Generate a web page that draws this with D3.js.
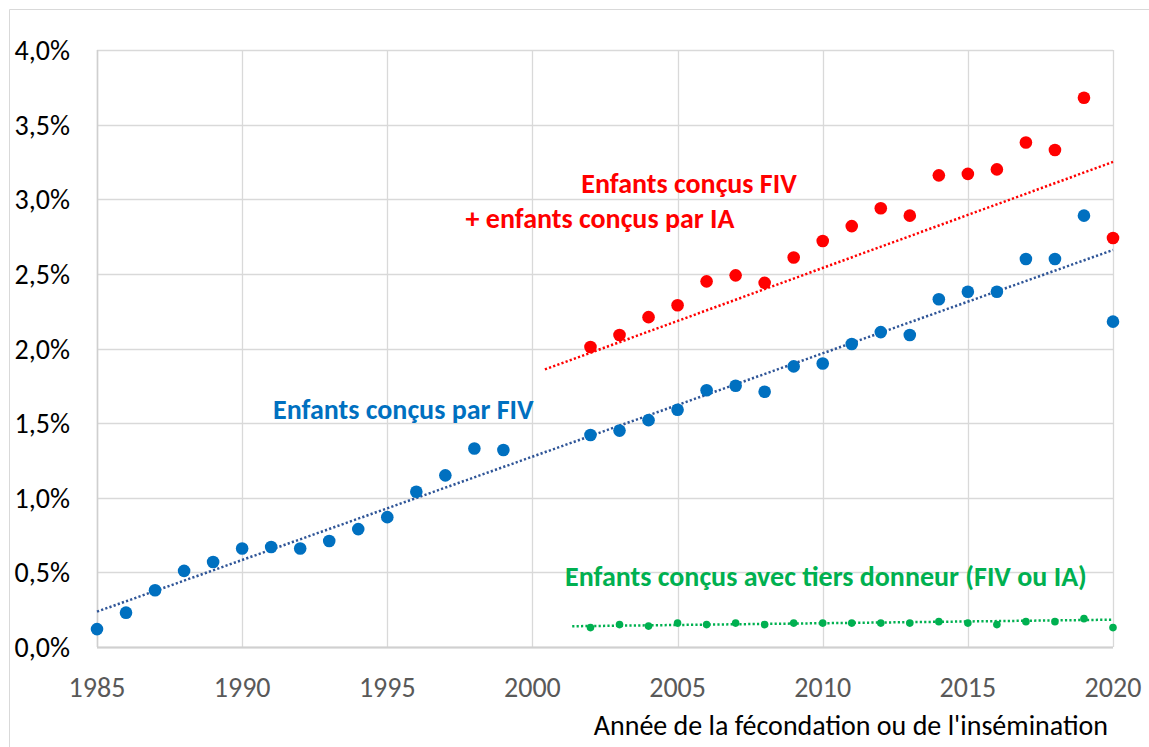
<!DOCTYPE html>
<html>
<head>
<meta charset="utf-8">
<script src="https://cdn.jsdelivr.net/npm/d3@7"></script>
<style>
    body { margin: 0; background: #fff; }
    svg { display: block; font-family: Calibri, Carlito, Lato, sans-serif; }
</style>
</head>
<body>
<div id="chart"></div>
<script>
// Years and shares (in %)
var fivYears = [1985, 1986, 1987, 1988, 1989, 1990, 1991, 1992, 1993, 1994, 1995, 1996, 1997, 1998, 1999,
    2002, 2003, 2004, 2005, 2006, 2007, 2008, 2009, 2010, 2011, 2012, 2013, 2014, 2015, 2016, 2017, 2018, 2019, 2020];
var fivValues = [0.12, 0.23, 0.38, 0.51, 0.57, 0.66, 0.67, 0.66, 0.71, 0.79, 0.87, 1.04, 1.15, 1.33, 1.32,
    1.42, 1.45, 1.52, 1.59, 1.72, 1.75, 1.71, 1.88, 1.90, 2.03, 2.11, 2.09, 2.33, 2.38, 2.38, 2.60, 2.60, 2.89, 2.18];

var totalYears = [2002, 2003, 2004, 2005, 2006, 2007, 2008, 2009, 2010, 2011, 2012, 2013, 2014, 2015, 2016, 2017, 2018, 2019, 2020];
var totalValues = [2.01, 2.09, 2.21, 2.29, 2.45, 2.49, 2.44, 2.61, 2.72, 2.82, 2.94, 2.89, 3.16, 3.17, 3.20, 3.38, 3.33, 3.68, 2.74];

var donorYears = totalYears;
var donorValues = [0.13, 0.15, 0.14, 0.16, 0.15, 0.16, 0.15, 0.16, 0.16, 0.16, 0.16, 0.16, 0.17, 0.16, 0.15, 0.17, 0.17, 0.19, 0.13];

// Trendlines as drawn (start / end)
var fivTrend = [[1985, 0.237], [2020, 2.66]];
var totalTrend = [[2000.43, 1.86], [2020, 3.25]];
var donorTrend = [[2001.37, 0.139], [2020, 0.183]];

var xTickValues = [1985, 1990, 1995, 2000, 2005, 2010, 2015, 2020];
var yTickValues = [0, 0.5, 1.0, 1.5, 2.0, 2.5, 3.0, 3.5, 4.0];

var width = 1149, height = 747;
var fontSize = 28;

var svg = d3.select("#chart").append("svg")
    .attr("width", width)
    .attr("height", height);

// outer chart frame (cut by the screenshot)
svg.append("path")
    .attr("d", "M9.5," + height + "V9.5H" + width)
    .attr("fill", "none")
    .attr("stroke", "#d9d9d9")
    .attr("stroke-width", 1);

var x = d3.scaleLinear().domain([1985, 2020]).range([97, 1113]);
var y = d3.scaleLinear().domain([0, 4]).range([647, 50]);

var fr = d3.formatLocale({ decimal: ",", thousands: " ", grouping: [3], currency: ["", "€"] });
var pct = fr.format(".1f");

// gridlines
svg.append("g")
    .selectAll("line")
    .data(yTickValues)
    .join("line")
    .attr("x1", x(1985)).attr("x2", x(2020))
    .attr("y1", d => Math.round(y(d)) + 0.5).attr("y2", d => Math.round(y(d)) + 0.5)
    .attr("stroke", "#d9d9d9")
    .attr("stroke-width", 1.3);

svg.append("g")
    .selectAll("line")
    .data(xTickValues)
    .join("line")
    .attr("x1", d => Math.round(x(d)) + 0.5).attr("x2", d => Math.round(x(d)) + 0.5)
    .attr("y1", y(4)).attr("y2", y(0))
    .attr("stroke", "#d9d9d9")
    .attr("stroke-width", 1.3);

// axis lines
svg.append("line")
    .attr("x1", x(1985)).attr("x2", x(2020))
    .attr("y1", y(0) + 0.5).attr("y2", y(0) + 0.5)
    .attr("stroke", "#d0d0d0")
    .attr("stroke-width", 2);
svg.append("line")
    .attr("x1", x(1985) + 0.5).attr("x2", x(1985) + 0.5)
    .attr("y1", y(4)).attr("y2", y(0))
    .attr("stroke", "#cfcfcf")
    .attr("stroke-width", 1.5);

// tick labels
svg.append("g")
    .selectAll("text")
    .data(yTickValues)
    .join("text")
    .attr("x", 70)
    .attr("y", d => y(d) + 10)
    .attr("text-anchor", "end")
    .attr("font-size", fontSize)
    .attr("fill", "#000")
    .text(d => pct(d) + "%");

svg.append("g")
    .selectAll("text")
    .data(xTickValues)
    .join("text")
    .attr("x", d => x(d))
    .attr("y", 697)
    .attr("text-anchor", "middle")
    .attr("font-size", fontSize)
    .attr("fill", "#595959")
    .text(d => d);

svg.append("text")
    .attr("x", 1108)
    .attr("y", 735)
    .attr("text-anchor", "end")
    .attr("font-size", fontSize)
    .attr("fill", "#000")
    .text("Année de la fécondation ou de l'insémination");

// trendlines
var line = d3.line().x(d => x(d[0])).y(d => y(d[1]));
function trend(data, color) {
    svg.append("path")
        .datum(data)
        .attr("d", line)
        .attr("fill", "none")
        .attr("stroke", color)
        .attr("stroke-width", 2.5)
        .attr("stroke-dasharray", "2.2,2.2");
}
trend(fivTrend, "#2f5597");
trend(totalTrend, "#ff0000");
trend(donorTrend, "#00b050");

// points
function points(years, values, color, r) {
    svg.append("g")
        .selectAll("circle")
        .data(years)
        .join("circle")
        .attr("cx", d => x(d))
        .attr("cy", (d, i) => y(values[i]))
        .attr("r", r)
        .attr("fill", color);
}
points(fivYears, fivValues, "#0070c0", 6.3);
points(totalYears, totalValues, "#ff0000", 6.3);
points(donorYears, donorValues, "#00b050", 3.8);

// series labels
function label(txt, xp, yp, color, anchor) {
    svg.append("text")
        .attr("x", xp)
        .attr("y", yp)
        .attr("text-anchor", anchor)
        .attr("font-size", fontSize)
        .attr("font-weight", "bold")
        .attr("fill", color)
        .text(txt);
}
label("Enfants conçus FIV", 689, 193, "#ff0000", "middle");
label("+ enfants conçus par IA", 600, 228, "#ff0000", "middle");
label("Enfants conçus par FIV", 273, 419, "#0070c0", "start");
label("Enfants conçus avec tiers donneur (FIV ou IA)", 565, 586, "#00b050", "start");
</script>
</body>
</html>
